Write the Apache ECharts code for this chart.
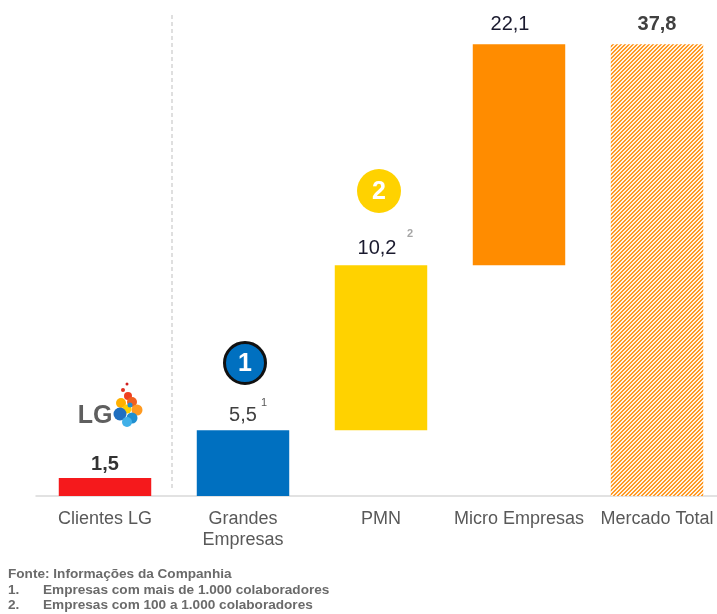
<!DOCTYPE html>
<html>
<head>
<meta charset="utf-8">
<script src="https://cdn.jsdelivr.net/npm/echarts@6/dist/echarts.min.js"></script>
<style>
  html, body { margin: 0; padding: 0; background: #fff; overflow: hidden; }
  #chart { width: 726px; height: 614px; }
</style>
</head>
<body>
<div id="chart"></div>
<script>
// categorias e valores
const categories = ['Clientes LG', 'Grandes\nEmpresas', 'PMN', 'Micro Empresas', 'Mercado Total'];
const barLow = [0, 0, 5.5, 19.3, 0];
const barSize = [1.5, 5.5, 13.8, 18.5, 37.8];
const valueLabels = ['1,5', '5,5', '10,2', '22,1', '37,8'];
const badgeText = ['', '1', '2', '', ''];
const notes = ['Fonte: Informações da Companhia', '1.', '2.'];
const noteTexts = ['', 'Empresas com mais de 1.000 colaboradores', 'Empresas com 100 a 1.000 colaboradores'];

// hachura do mercado total
function hatch () {
  const c = document.createElement('canvas')
  c.width = 4
  c.height = 4
  const ctx = c.getContext('2d')
  for (let x = 0; x < 4; x++) {
    for (let y = 0; y < 4; y++) {
      ctx.fillStyle = (x + y) % 4 < 2 ? '#ff9a26' : '#fff3e3'
      ctx.fillRect(x, y, 1, 1)
    }
  }
  return c
}

const colors = ['#f5191c', '#0070c0', '#ffd200', '#ff8c00', { image: hatch(), repeat: 'repeat' }];
const labelStyles = [
  { fontWeight: 'bold', color: '#333333', fontSize: 20, distance: 4 },
  { fontWeight: 'normal', color: '#404040', fontSize: 20, distance: 5 },
  { fontWeight: 'normal', color: '#1a1a2e', fontSize: 20, distance: 7, offset: [-4, 0] },
  { fontWeight: 'normal', color: '#1a1a2e', fontSize: 20, distance: 10, offset: [-9, 0] },
  { fontWeight: 'bold', color: '#404040', fontSize: 20, distance: 10 }
];

const chart = echarts.init(document.getElementById('chart'));

const option = {
  animation: false,
  textStyle: { fontFamily: 'Liberation Sans, Arial, sans-serif' },
  grid: { left: 36, top: 18, right: 0, height: 478 },
  xAxis: {
    type: 'category',
    data: categories,
    axisLine: { lineStyle: { color: '#d9d9d9', width: 1.5 } },
    axisTick: { show: false },
    axisLabel: { color: '#595959', fontSize: 18, lineHeight: 21, margin: 13, interval: 0 }
  },
  yAxis: {
    type: 'value',
    min: 0,
    max: 40,
    show: false,
    splitLine: { show: false }
  },
  series: [
    {
      type: 'bar',
      stack: 'w',
      barWidth: '67%',
      itemStyle: { color: 'transparent' },
      data: barLow
    },
    {
      type: 'bar',
      stack: 'w',
      barWidth: '67%',
      data: barSize.map((v, i) => ({
        value: v,
        itemStyle: { color: colors[i] },
        label: Object.assign({
          show: true,
          position: 'top',
          formatter: valueLabels[i]
        }, labelStyles[i])
      }))
    }
  ]
};
chart.setOption(option);

// elementos extras: linha tracejada, selos, sobrescritos, logo, notas
const px = (i, v) => chart.convertToPixel({ xAxisIndex: 0, yAxisIndex: 0 }, [i, v]);
const g = [];
const x0 = px(0, 0)[0], x1 = px(1, 0)[0];
const sep = (x0 + x1) / 2 - 2;
g.push({
  type: 'line',
  shape: { x1: sep, y1: 15, x2: sep, y2: 490 },
  style: { stroke: '#bfbfbf', lineWidth: 1, lineDash: [4, 3] }
});

// sobrescritos
const top1 = px(1, barLow[1] + barSize[1]);
g.push({ type: 'text', x: top1[0] + 18, y: top1[1] - 33, style: { text: '1', fontSize: 11, fill: '#595959', fontFamily: 'Liberation Sans' } });
const top2 = px(2, barLow[2] + barSize[2]);
g.push({ type: 'text', x: top2[0] + 26, y: top2[1] - 37, style: { text: '2', fontSize: 11, fill: '#a6a6a6', fontWeight: 'bold', fontFamily: 'Liberation Sans' } });

// selos numerados
const b1 = px(1, 0);
g.push({ type: 'circle', shape: { cx: b1[0] + 2, cy: 363, r: 20.5 }, style: { fill: '#0070c0', stroke: '#111', lineWidth: 3 } });
g.push({ type: 'text', x: b1[0] + 2, y: 364, style: { text: badgeText[1], fill: '#fff', fontSize: 25, fontWeight: 'bold', align: 'center', verticalAlign: 'middle', fontFamily: 'Liberation Sans' } });
const b2 = px(2, 0);
g.push({ type: 'circle', shape: { cx: b2[0] - 2, cy: 191, r: 22 }, style: { fill: '#ffd200' } });
g.push({ type: 'text', x: b2[0] - 2, y: 192, style: { text: badgeText[2], fill: '#fff', fontSize: 25, fontWeight: 'bold', align: 'center', verticalAlign: 'middle', fontFamily: 'Liberation Sans' } });

// logo LG
g.push({ type: 'text', x: 95, y: 416, style: { text: 'LG', fill: '#5f5f5f', fontSize: 25, fontWeight: 'bold', align: 'center', verticalAlign: 'middle', fontFamily: 'Liberation Sans' } });
[
  [127, 384, 1.5, '#d02020'], [123, 390, 2, '#e03020'], [128, 396, 4, '#f04020'],
  [121, 403, 5, '#ffb000'], [132, 402, 5, '#f06020'], [137, 410, 5.5, '#ff9a20'],
  [127, 409, 4.5, '#ffd000'], [120, 414, 6.5, '#1f6fc0'], [132, 418, 5.5, '#1f8fd0'],
  [127, 422, 5, '#40b0e8'], [130, 405, 2.5, '#2090d0']
].forEach(c => g.push({ type: 'circle', shape: { cx: c[0], cy: c[1], r: c[2] }, style: { fill: c[3] } }));

// notas
const noteY = [574, 590, 605];
const noteStyle = { fill: '#6a6a6a', fontSize: 13.6, fontWeight: 'bold', verticalAlign: 'middle', fontFamily: 'Liberation Sans' };
g.push({ type: 'text', x: 8, y: noteY[0], style: Object.assign({ text: notes[0] }, noteStyle) });
for (let k = 1; k < 3; k++) {
  g.push({ type: 'text', x: 8, y: noteY[k], style: Object.assign({ text: notes[k] }, noteStyle) });
  g.push({ type: 'text', x: 43, y: noteY[k], style: Object.assign({ text: noteTexts[k] }, noteStyle) });
}

chart.setOption({ graphic: g });
</script>
</body>
</html>
